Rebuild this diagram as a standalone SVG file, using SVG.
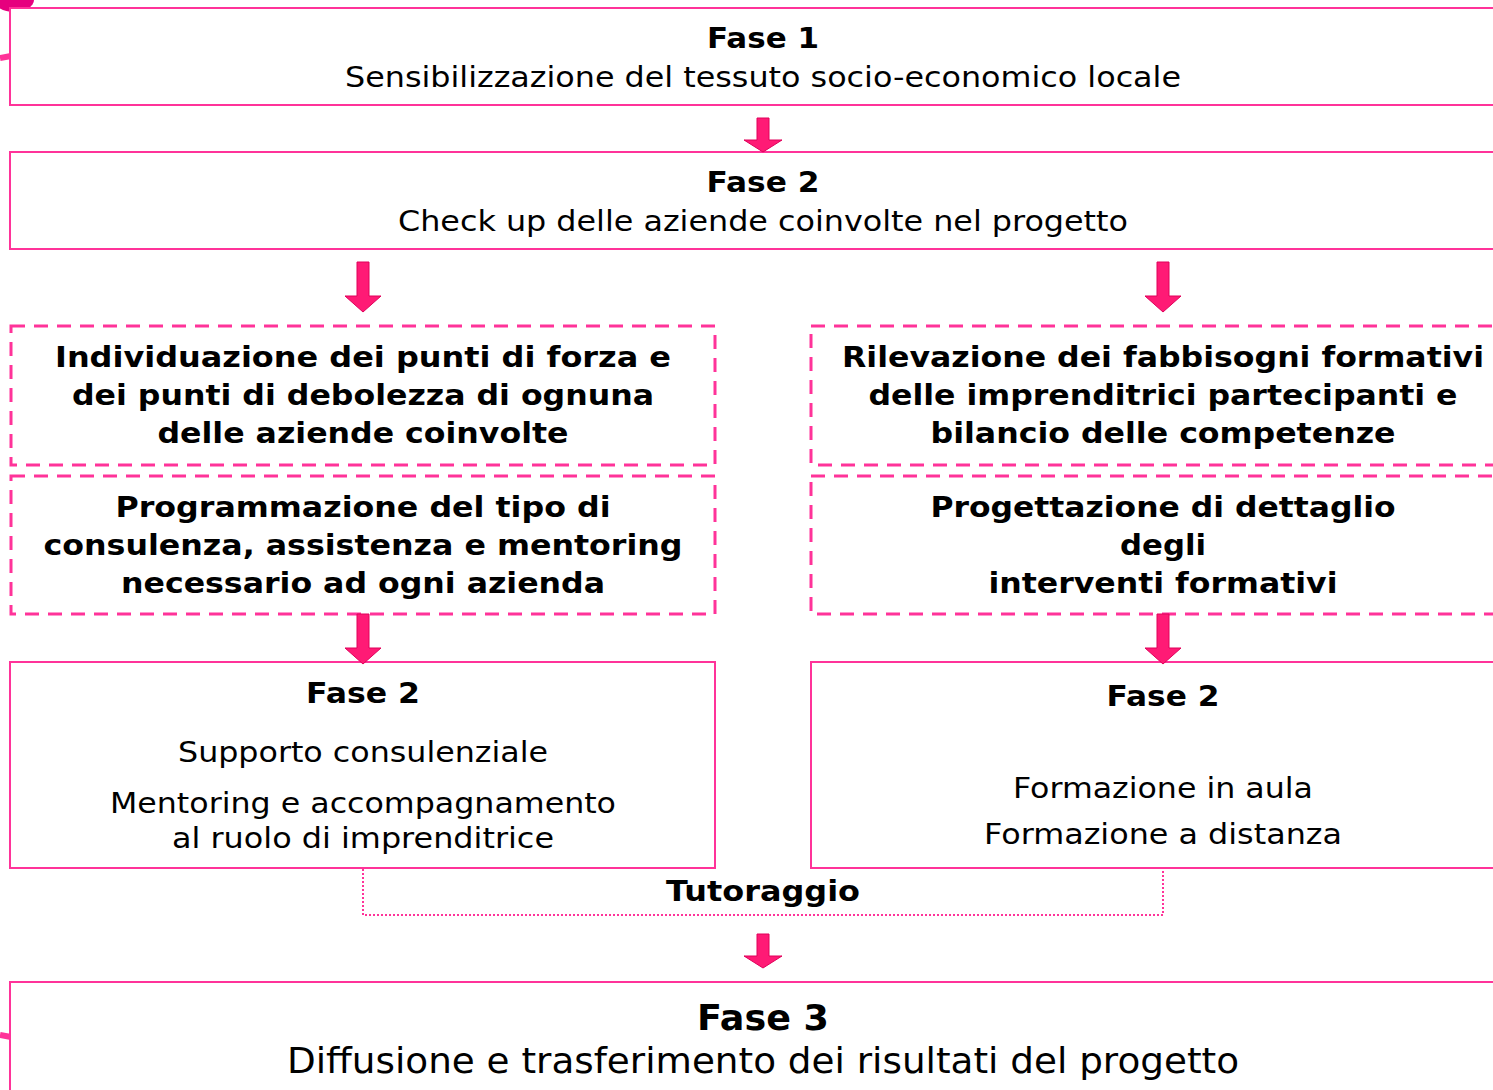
<svg xmlns="http://www.w3.org/2000/svg" width="1493" height="1090" viewBox="0 0 1493 1090">
<style>
.box{fill:#fff;stroke:#ff3399;stroke-width:2}
.dash{fill:#fff;stroke:#ff3399;stroke-width:3;stroke-dasharray:14 9}
.dot{fill:none;stroke:#ff3399;stroke-width:2;stroke-dasharray:2 2}
.arr{fill:#ff1a75;stroke:#e0005a;stroke-width:1}
text{font-family:"DejaVu Sans",Verdana,sans-serif;fill:#000;text-anchor:middle}
.b{font-weight:bold}
.t{font-size:28px}
.l{font-size:35px}
</style>
<defs>
<path id="a1" d="M-6,0 H6 V22 H19 L0,34 L-19,22 H-6 Z"/>
<path id="a2" d="M-6,0 H6 V34 H18 L0,50 L-18,34 H-6 Z"/>
</defs>
<ellipse cx="14" cy="0" rx="20" ry="12" fill="#e6007e"/>
<path d="M0,58 L11,56" stroke="#ff3399" stroke-width="6"/>
<path d="M0,1035 L11,1037" stroke="#ff3399" stroke-width="6"/>
<g id="fase1"><rect class="box" x="10" y="8" width="1500" height="97"/>
<text x="763" y="48" class="t b" textLength="112" lengthAdjust="spacingAndGlyphs">Fase 1</text>
<text x="763" y="87" class="t" textLength="836" lengthAdjust="spacingAndGlyphs">Sensibilizzazione del tessuto socio-economico locale</text></g>
<g id="fase2"><rect class="box" x="10" y="152" width="1500" height="97"/>
<text x="763" y="192" class="t b" textLength="113" lengthAdjust="spacingAndGlyphs">Fase 2</text>
<text x="763" y="231" class="t" textLength="730" lengthAdjust="spacingAndGlyphs">Check up delle aziende coinvolte nel progetto</text></g>
<g id="individuazione"><rect class="dash" x="11" y="326" width="704" height="139"/>
<text class="t b" x="363" y="367" textLength="616" lengthAdjust="spacingAndGlyphs">Individuazione dei punti di forza e</text>
<text class="t b" x="363" y="405" textLength="582" lengthAdjust="spacingAndGlyphs">dei punti di debolezza di ognuna</text>
<text class="t b" x="363" y="443" textLength="411" lengthAdjust="spacingAndGlyphs">delle aziende coinvolte</text></g>
<g id="programmazione"><rect class="dash" x="11" y="476" width="704" height="138"/>
<text class="t b" x="363" y="517" textLength="495" lengthAdjust="spacingAndGlyphs">Programmazione del tipo di</text>
<text class="t b" x="363" y="555" textLength="639" lengthAdjust="spacingAndGlyphs">consulenza, assistenza e mentoring</text>
<text class="t b" x="363" y="593" textLength="484" lengthAdjust="spacingAndGlyphs">necessario ad ogni azienda</text></g>
<g id="rilevazione"><rect class="dash" x="811" y="326" width="700" height="139"/>
<text class="t b" x="1163" y="367" textLength="642" lengthAdjust="spacingAndGlyphs">Rilevazione dei fabbisogni formativi</text>
<text class="t b" x="1163" y="405" textLength="589" lengthAdjust="spacingAndGlyphs">delle imprenditrici partecipanti e</text>
<text class="t b" x="1163" y="443" textLength="465" lengthAdjust="spacingAndGlyphs">bilancio delle competenze</text></g>
<g id="progettazione"><rect class="dash" x="811" y="476" width="700" height="138"/>
<text class="t b" x="1163" y="517" textLength="465" lengthAdjust="spacingAndGlyphs">Progettazione di dettaglio</text>
<text class="t b" x="1163" y="555" textLength="86" lengthAdjust="spacingAndGlyphs">degli</text>
<text class="t b" x="1163" y="593" textLength="349" lengthAdjust="spacingAndGlyphs">interventi formativi</text></g>
<g id="fase2-sx"><rect class="box" x="10" y="662" width="705" height="206"/>
<text class="t b" x="363" y="703" textLength="114" lengthAdjust="spacingAndGlyphs">Fase 2</text>
<text class="t" x="363" y="762" textLength="370" lengthAdjust="spacingAndGlyphs">Supporto consulenziale</text>
<text class="t" x="363" y="813" textLength="506" lengthAdjust="spacingAndGlyphs">Mentoring e accompagnamento</text>
<text class="t" x="363" y="848" textLength="382" lengthAdjust="spacingAndGlyphs">al ruolo di imprenditrice</text></g>
<g id="fase2-dx"><rect class="box" x="811" y="662" width="700" height="206"/>
<text class="t b" x="1163" y="706" textLength="113" lengthAdjust="spacingAndGlyphs">Fase 2</text>
<text class="t" x="1163" y="798" textLength="300" lengthAdjust="spacingAndGlyphs">Formazione in aula</text>
<text class="t" x="1163" y="844" textLength="358" lengthAdjust="spacingAndGlyphs">Formazione a distanza</text></g>
<g id="fase3"><rect class="box" x="10" y="982" width="1500" height="120"/>
<text x="763" y="1030" class="l b" textLength="132" lengthAdjust="spacingAndGlyphs">Fase 3</text>
<text x="763" y="1073" class="l" textLength="952" lengthAdjust="spacingAndGlyphs">Diffusione e trasferimento dei risultati del progetto</text></g>
<g id="connectors">
<use href="#a1" class="arr" x="763" y="118"/>
<use href="#a2" class="arr" x="363" y="262"/>
<use href="#a2" class="arr" x="1163" y="262"/>
<use href="#a2" class="arr" x="363" y="614"/>
<use href="#a2" class="arr" x="1163" y="614"/>
<use href="#a1" class="arr" x="763" y="934"/>
<path class="dot" d="M363,869 V915 H1163 V869"/>
<text class="t b" x="763" y="901" textLength="194" lengthAdjust="spacingAndGlyphs">Tutoraggio</text>
</g>
</svg>
